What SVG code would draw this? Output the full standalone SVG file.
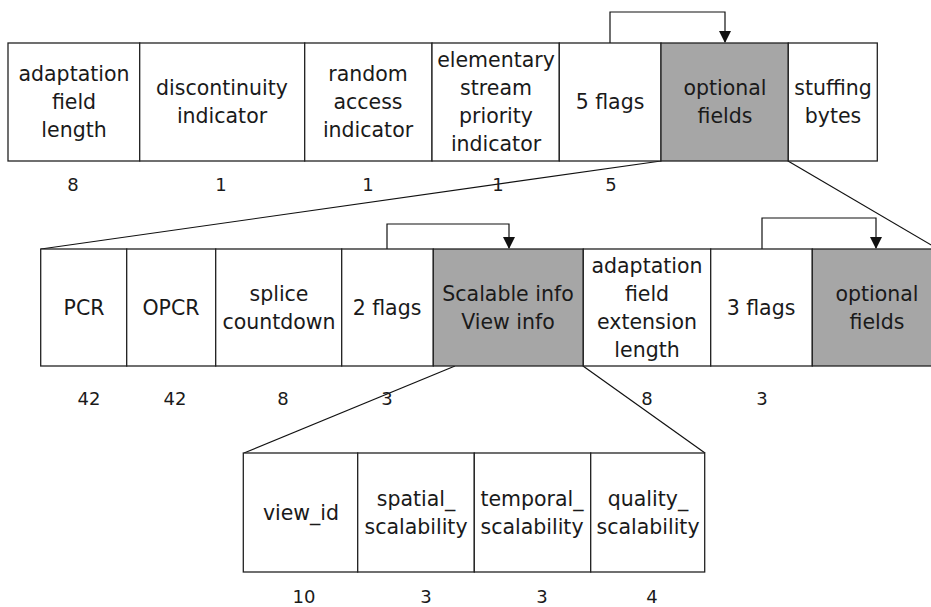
<svg xmlns="http://www.w3.org/2000/svg" width="931" height="607" viewBox="0 0 931 607">
<style>
.c{fill:#fff;stroke:#222;stroke-width:1.3}
.g{fill:#a6a6a6;stroke:#222;stroke-width:1.3}
text{font-family:"DejaVu Sans",sans-serif;font-size:20.5px;fill:#1a1a1a;text-anchor:middle}
.n{font-size:18px}
.ln{fill:none;stroke:#111;stroke-width:1.2}
</style>
<defs>
<marker id="ah" markerWidth="12" markerHeight="12" refX="11" refY="6" orient="auto" markerUnits="userSpaceOnUse">
<path d="M0,0 L12,6 L0,12 Z" fill="#111"/>
</marker>
</defs>
<rect width="931" height="607" fill="#fff"/>
<g id="connectors">
<path class="ln" d="M661,161 L41,249"/>
<path class="ln" d="M788,161 L938,249"/>
<path class="ln" d="M455,366 L244,453"/>
<path class="ln" d="M583,366 L705,453"/>
<path class="ln" d="M610,43 V12 H725 V42" marker-end="url(#ah)"/>
<path class="ln" d="M387,249 V224 H509 V248" marker-end="url(#ah)"/>
<path class="ln" d="M762,249 V218 H876 V248" marker-end="url(#ah)"/>
</g>
<g id="top-row">
<g id="n-afl"><rect class="c" x="8" y="43" width="131.7" height="118"/>
<text x="74" y="81">adaptation</text><text x="74" y="109">field</text><text x="74" y="137">length</text></g>
<g id="n-disc"><rect class="c" x="139.7" y="43" width="165" height="118"/>
<text x="222" y="95">discontinuity</text><text x="222" y="123">indicator</text></g>
<g id="n-rai"><rect class="c" x="304.7" y="43" width="127.3" height="118"/>
<text x="368" y="81">random</text><text x="368" y="109">access</text><text x="368" y="137">indicator</text></g>
<g id="n-espi"><rect class="c" x="432" y="43" width="127.3" height="118"/>
<text x="496" y="67">elementary</text><text x="496" y="95">stream</text><text x="496" y="123">priority</text><text x="496" y="151">indicator</text></g>
<g id="n-5flags"><rect class="c" x="559.3" y="43" width="101.7" height="118"/>
<text x="610" y="109">5 flags</text></g>
<g id="n-opt1"><rect class="g" x="661" y="43" width="127.3" height="118"/>
<text x="725" y="95">optional</text><text x="725" y="123">fields</text></g>
<g id="n-stuff"><rect class="c" x="788.3" y="43" width="89" height="118"/>
<text x="833" y="95">stuffing</text><text x="833" y="123">bytes</text></g>
<g id="top-nums">
<text class="n" x="73" y="191">8</text><text class="n" x="221" y="191">1</text><text class="n" x="368" y="191">1</text><text class="n" x="498" y="191">1</text><text class="n" x="611" y="191">5</text></g>
</g>
<g id="mid-row">
<g id="n-pcr"><rect class="c" x="40.7" y="249" width="86" height="117"/><text x="84" y="314.5">PCR</text></g>
<g id="n-opcr"><rect class="c" x="126.7" y="249" width="89" height="117"/><text x="171" y="314.5">OPCR</text></g>
<g id="n-splice"><rect class="c" x="215.7" y="249" width="126" height="117"/>
<text x="279" y="300.5">splice</text><text x="279" y="328.5">countdown</text></g>
<g id="n-2flags"><rect class="c" x="341.7" y="249" width="91.6" height="117"/><text x="387" y="314.5">2 flags</text></g>
<g id="n-scal"><rect class="g" x="433.3" y="249" width="150" height="117"/>
<text x="508" y="300.5">Scalable info</text><text x="508" y="328.5">View info</text></g>
<g id="n-afel"><rect class="c" x="583.3" y="249" width="127.4" height="117"/>
<text x="647" y="272.5">adaptation</text><text x="647" y="300.5">field</text><text x="647" y="328.5">extension</text><text x="647" y="356.5">length</text></g>
<g id="n-3flags"><rect class="c" x="710.7" y="249" width="101.6" height="117"/><text x="761" y="314.5">3 flags</text></g>
<g id="n-opt2"><rect class="g" x="812.3" y="249" width="126" height="117"/>
<text x="877" y="300.5">optional</text><text x="877" y="328.5">fields</text></g>
<g id="mid-nums">
<text class="n" x="89" y="405">42</text><text class="n" x="175" y="405">42</text><text class="n" x="283" y="405">8</text><text class="n" x="387" y="405">3</text><text class="n" x="647" y="405">8</text><text class="n" x="762" y="405">3</text></g>
</g>
<g id="bottom-row">
<g id="n-viewid"><rect class="c" x="243.3" y="453" width="114.4" height="119"/><text x="301" y="519.5">view_id</text></g>
<g id="n-spatial"><rect class="c" x="357.7" y="453" width="116.6" height="119"/>
<text x="416" y="505.5">spatial_</text><text x="416" y="533.5">scalability</text></g>
<g id="n-temporal"><rect class="c" x="474.3" y="453" width="116.4" height="119"/>
<text x="532" y="505.5">temporal_</text><text x="532" y="533.5">scalability</text></g>
<g id="n-quality"><rect class="c" x="590.7" y="453" width="114" height="119"/>
<text x="648" y="505.5">quality_</text><text x="648" y="533.5">scalability</text></g>
<g id="bottom-nums">
<text class="n" x="304" y="603">10</text><text class="n" x="426" y="603">3</text><text class="n" x="542" y="603">3</text><text class="n" x="652" y="603">4</text></g>
</g>
</svg>
